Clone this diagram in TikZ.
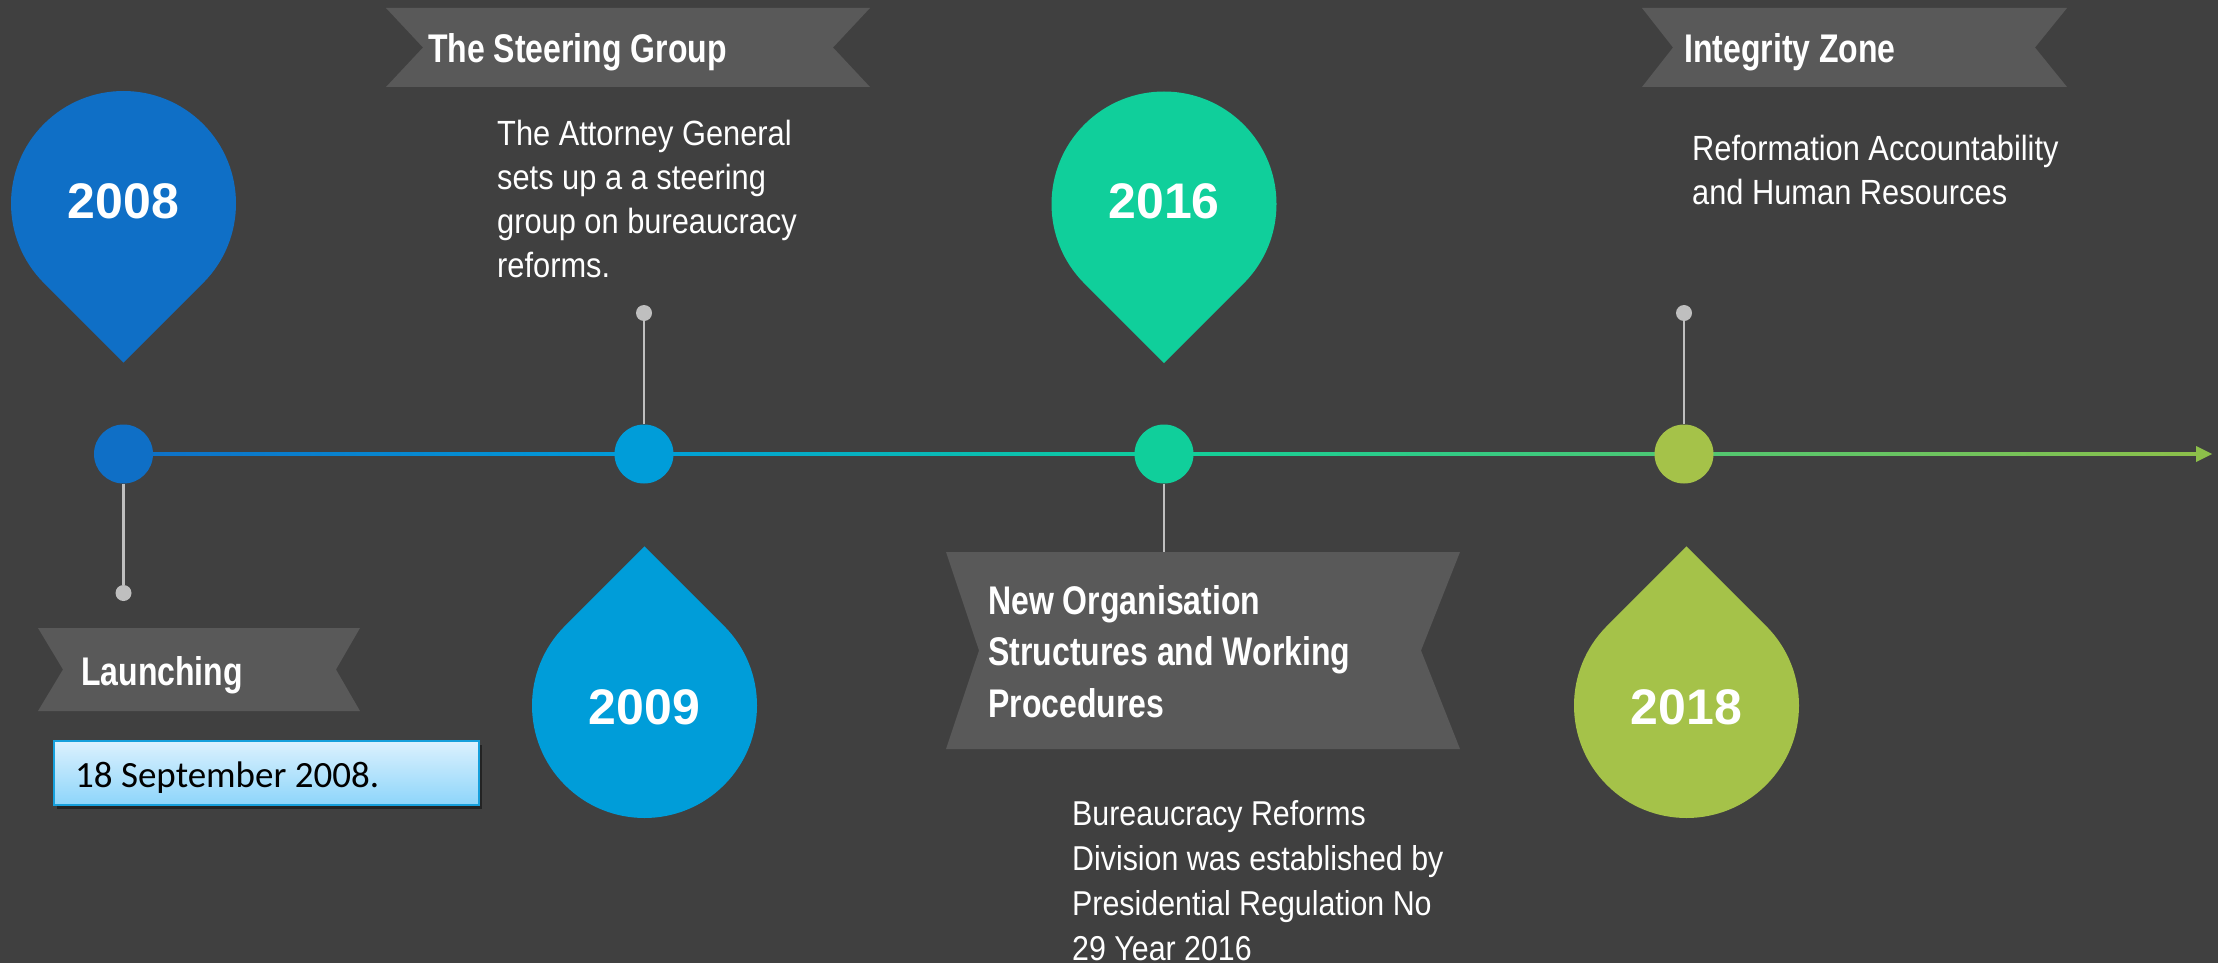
\documentclass[tikz,border=0pt]{standalone}
\usepackage{fontspec}
\setmainfont{Liberation Sans}
\newfontfamily\headfont[FakeStretch=0.8]{Liberation Sans}
\newfontfamily\bodyfont[FakeStretch=0.88]{Liberation Sans}
\newfontfamily\datefont{Carlito}
\usetikzlibrary{shadows}
\definecolor{bg}{HTML}{404040}
\definecolor{ribbon}{HTML}{595959}
\definecolor{stemgray}{HTML}{BFBFBF}
\definecolor{cblue}{HTML}{0F6FC6}
\definecolor{ccyan}{HTML}{009DD9}
\definecolor{cteal}{HTML}{10CF9B}
\definecolor{cgreen}{HTML}{A5C249}
\definecolor{lgreen}{HTML}{8DC04A}
\definecolor{boxtop}{HTML}{DCF1FE}
\definecolor{boxbot}{HTML}{8DD5FA}
\definecolor{boxline}{HTML}{16A0DC}
\newcommand\downpin[3]{\fill[#3] (#1,#2) ++(0pt,-159.1pt) -- ++(79.55pt,79.55pt) arc[start angle=-45,end angle=225,radius=112.5pt] -- cycle;}
\newcommand\uppin[3]{\fill[#3] (#1,#2) ++(0pt,159.1pt) -- ++(-79.55pt,-79.55pt) arc[start angle=135,end angle=405,radius=112.5pt] -- cycle;}
\tikzset{
  yeartext/.style={text=white, inner sep=0pt, font=\bfseries\fontsize{50}{56}\selectfont},
  tdot/.style={circle, inner sep=0pt, minimum size=59pt},
  sdot/.style={circle, inner sep=0pt, minimum size=16pt, fill=stemgray},
  stem/.style={draw=stemgray, line width=2.5pt},
  head/.style={text=white, inner sep=0pt, anchor=base west, align=left, font=\headfont\bfseries\fontsize{40}{51.5}\selectfont},
  body/.style={text=white, inner sep=0pt, anchor=base west, align=left, font=\bodyfont\fontsize{35}{44}\selectfont},
  ribbonfill/.style={fill=ribbon}
}
\begin{document}
\begin{tikzpicture}[x=1pt,y=-1pt]
\fill[bg] (0,0) rectangle (2218,963);
\useasboundingbox (0,0) rectangle (2218,963);

% timeline line
\shade[left color=cblue, right color=ccyan] (123.5,452.5) rectangle (644,455.5);
\shade[left color=ccyan, right color=cteal] (644,452.5) rectangle (1164,455.5);
\shade[left color=cteal, right color=lgreen] (1164,452.5) rectangle (2198,455.5);
\coordinate (tip) at (2212,454);
\fill[lgreen] (tip) -- (2196,446) -- (2196,462) -- cycle;

% timeline dots
\node[tdot, fill=cblue] (d1) at (123.5,454) {};
\node[tdot, fill=ccyan] (d2) at (644,454) {};
\node[tdot, fill=cteal] (d3) at (1164,454) {};
\node[tdot, fill=cgreen] (d4) at (1684,454) {};

% stems
\node[sdot] (s1) at (123.5,593) {};
\node[sdot] (s2) at (644,313) {};
\node[sdot] (s4) at (1684,313) {};
\coordinate (s3) at (1164,552);
\draw[stem] (d1) -- (s1);
\draw[stem] (d2) -- (s2);
\draw[stem] (d4) -- (s4);
\draw[stem] (d3.south) -- (s3);

% pins
\downpin{123.5}{203.5}{cblue}
\node[yeartext] (y2008) at (123.5,201) {2008};
\uppin{644.5}{705.5}{ccyan}
\node[yeartext] (y2009) at (644.5,707) {2009};
\downpin{1164}{204}{cteal}
\node[yeartext] (y2016) at (1164,201) {2016};
\uppin{1686.5}{705.5}{cgreen}
\node[yeartext] (y2018) at (1686.5,707) {2018};

% ribbons
\fill[ribbonfill] (386,8) -- (870,8) -- (833,47.5) -- (870,87) -- (386,87) -- (423,47.5) -- cycle;
\node[head] (h2009) at (428,63) {The Steering Group};
\fill[ribbonfill] (1642,8) -- (2067,8) -- (2035,47.5) -- (2067,87) -- (1642,87) -- (1673,47.5) -- cycle;
\node[head] (h2018) at (1684,63) {Integrity Zone};
\fill[ribbonfill] (38,628) -- (360,628) -- (336,669.5) -- (360,711) -- (38,711) -- (63,669.5) -- cycle;
\node[head] (h2008) at (81,685) {Launching};
\fill[ribbonfill] (946,552) -- (1460,552) -- (1421,650.5) -- (1460,749) -- (946,749) -- (979,650.5) -- cycle;
\node[head] (h2016) at (988,717) {New Organisation\\Structures and Working\\Procedures};

% body texts (anchor = baseline of last line)
\node[body] (b2009) at (497,277) {The Attorney General\\sets up a a steering\\group on bureaucracy\\reforms.};
\node[body] (b2018) at (1692,204) {Reformation Accountability\\and Human Resources};
\node[body, font=\bodyfont\fontsize{34.5}{45}\selectfont] (b2016) at (1072,960) {Bureaucracy Reforms\\Division was established by\\Presidential Regulation No\\29 Year 2016};

% date box
\shade[top color=boxtop, bottom color=boxbot, draw=boxline, line width=2pt,
  drop shadow={shadow xshift=3pt, shadow yshift=-4pt, opacity=0.45, fill=black}]
  (54,741) rectangle (479,805);
\node[text=black, inner sep=0pt, anchor=base west, font=\datefont\fontsize{37}{40}\selectfont] (date) at (75,787) {18 September 2008.};
\end{tikzpicture}
\end{document}
